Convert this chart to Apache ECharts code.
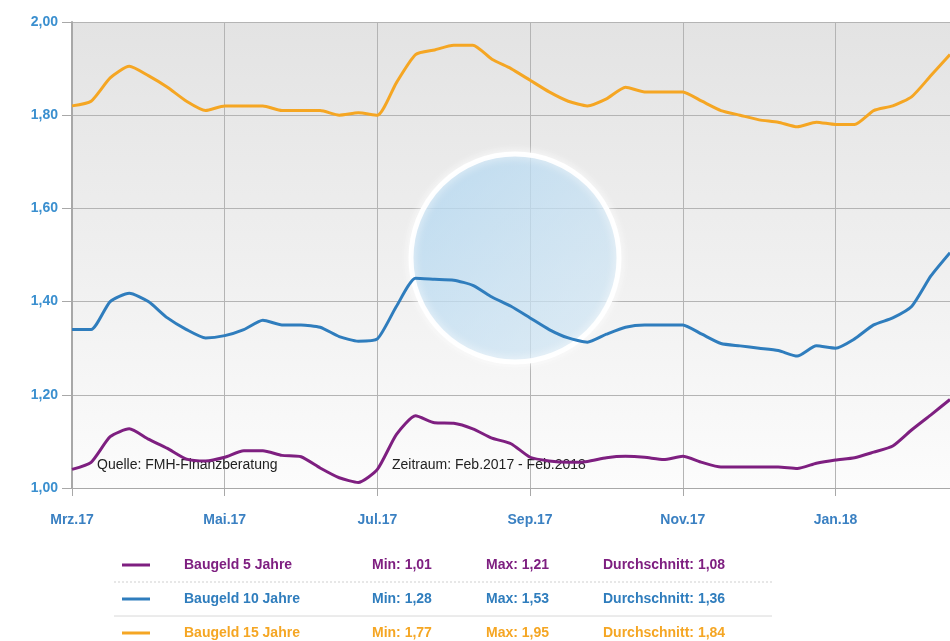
<!DOCTYPE html>
<html>
<head>
<meta charset="utf-8">
<script src="https://cdn.jsdelivr.net/npm/echarts@6/dist/echarts.min.js"></script>
<style>
  html, body { margin: 0; padding: 0; background: #fff; }
  #chart { width: 950px; height: 641px; }
</style>
</head>
<body>
<div id="chart"></div>
<script>
// month labels on the x axis, one every 8 weekly points
var monthLabels = ['Mrz.17', 'Mai.17', 'Jul.17', 'Sep.17', 'Nov.17', 'Jan.18'];

// Baugeld 5 Jahre
var zins5 = [1.04, 1.055, 1.11, 1.127, 1.105, 1.085, 1.062, 1.058, 1.066, 1.08,
    1.08, 1.07, 1.067, 1.043, 1.022, 1.012, 1.04, 1.115, 1.155, 1.14,
    1.139, 1.127, 1.107, 1.095, 1.066, 1.058, 1.055, 1.057, 1.065, 1.068,
    1.066, 1.061, 1.068, 1.055, 1.045, 1.045, 1.045, 1.045, 1.042, 1.053,
    1.06, 1.065, 1.077, 1.09, 1.125, 1.157, 1.19];
// Baugeld 10 Jahre
var zins10 = [1.34, 1.34, 1.40, 1.418, 1.40, 1.365, 1.34, 1.322, 1.327, 1.34,
    1.36, 1.35, 1.35, 1.345, 1.325, 1.315, 1.32, 1.39, 1.45, 1.448,
    1.446, 1.435, 1.41, 1.39, 1.365, 1.34, 1.322, 1.313, 1.33, 1.345,
    1.35, 1.35, 1.35, 1.33, 1.31, 1.305, 1.30, 1.295, 1.283, 1.305,
    1.30, 1.32, 1.35, 1.365, 1.39, 1.455, 1.505];
// Baugeld 15 Jahre
var zins15 = [1.82, 1.83, 1.88, 1.905, 1.885, 1.86, 1.83, 1.81, 1.82, 1.82,
    1.82, 1.81, 1.81, 1.81, 1.80, 1.805, 1.80, 1.87, 1.93, 1.94,
    1.95, 1.95, 1.92, 1.90, 1.875, 1.85, 1.83, 1.82, 1.835, 1.86,
    1.85, 1.85, 1.85, 1.83, 1.81, 1.80, 1.79, 1.785, 1.775, 1.785,
    1.78, 1.78, 1.81, 1.82, 1.84, 1.885, 1.93];

var seriesNames = ['Baugeld 5 Jahre', 'Baugeld 10 Jahre', 'Baugeld 15 Jahre'];
var seriesColors = ['#7e1f80', '#2f7dbd', '#f5a623'];
var statMin = ['1,01', '1,28', '1,77'];
var statMax = ['1,21', '1,53', '1,95'];
var statAvg = ['1,08', '1,36', '1,84'];

var categories = [];
for (var i = 0; i < zins5.length; i++) {
    categories.push(i % 8 === 0 ? monthLabels[i / 8] : '');
}
var showMonth = function (idx, val) { return val !== ''; };

// legend table below the chart
var legendGraphics = [];
var rowY = [565, 599, 633];
for (var r = 0; r < 3; r++) {
    var col = seriesColors[r];
    var font = 'bold 14px Arial, "Liberation Sans", sans-serif';
    legendGraphics.push({
        type: 'line',
        shape: {x1: 122, y1: rowY[r], x2: 150, y2: rowY[r]},
        style: {stroke: col, lineWidth: 3}
    });
    legendGraphics.push({type: 'text', x: 184, y: rowY[r], style: {text: seriesNames[r], fill: col, font: font, textVerticalAlign: 'middle'}});
    legendGraphics.push({type: 'text', x: 372, y: rowY[r], style: {text: 'Min: ' + statMin[r], fill: col, font: font, textVerticalAlign: 'middle'}});
    legendGraphics.push({type: 'text', x: 486, y: rowY[r], style: {text: 'Max: ' + statMax[r], fill: col, font: font, textVerticalAlign: 'middle'}});
    legendGraphics.push({type: 'text', x: 603, y: rowY[r], style: {text: 'Durchschnitt: ' + statAvg[r], fill: col, font: font, textVerticalAlign: 'middle'}});
}
legendGraphics.push({
    type: 'line',
    shape: {x1: 114, y1: 582, x2: 772, y2: 582},
    style: {stroke: '#d0d0d0', lineWidth: 1, lineDash: [2, 2]}
});
legendGraphics.push({
    type: 'line',
    shape: {x1: 114, y1: 616, x2: 772, y2: 616},
    style: {stroke: '#d8d8d8', lineWidth: 1}
});

var option = {
    backgroundColor: '#ffffff',
    animation: false,
    grid: {
        left: 72,
        right: 0,
        top: 22,
        bottom: 153,
        show: true,
        borderWidth: 0,
        backgroundColor: {
            type: 'linear', x: 0, y: 0, x2: 0, y2: 1,
            colorStops: [
                {offset: 0, color: '#e3e3e3'},
                {offset: 0.5, color: '#efefef'},
                {offset: 1, color: '#fcfcfc'}
            ]
        }
    },
    graphic: [
        {
            type: 'circle',
            shape: {cx: 515, cy: 258, r: 104},
            z: 1,
            style: {
                fill: {
                    type: 'linear', x: 0, y: 0, x2: 1, y2: 1,
                    colorStops: [
                        {offset: 0, color: 'rgba(150,200,235,0.6)'},
                        {offset: 1, color: 'rgba(190,220,240,0.45)'}
                    ]
                },
                stroke: 'rgba(255,255,255,0.95)',
                lineWidth: 5,
                shadowBlur: 10,
                shadowColor: 'rgba(255,255,255,0.9)'
            }
        },
        {
            type: 'text', x: 97, y: 465, z: 5,
            style: {text: 'Quelle: FMH-Finanzberatung', fill: '#222', font: '14px Arial, "Liberation Sans", sans-serif', textVerticalAlign: 'middle'}
        },
        {
            type: 'text', x: 392, y: 465, z: 5,
            style: {text: 'Zeitraum: Feb.2017 - Feb.2018', fill: '#222', font: '14px Arial, "Liberation Sans", sans-serif', textVerticalAlign: 'middle'}
        }
    ].concat(legendGraphics),
    xAxis: {
        type: 'category',
        data: categories,
        boundaryGap: false,
        axisLine: {lineStyle: {color: '#a8a8a8', width: 1}},
        axisTick: {show: true, interval: showMonth, length: 8, lineStyle: {color: '#a8a8a8'}},
        axisLabel: {
            interval: showMonth,
            margin: 25,
            color: '#3a80c2',
            fontWeight: 'bold',
            fontSize: 14,
            fontFamily: 'Arial, "Liberation Sans", sans-serif'
        },
        splitLine: {show: true, interval: showMonth, lineStyle: {color: '#b4b4b4', width: 1}}
    },
    yAxis: {
        type: 'value',
        min: 1,
        max: 2,
        interval: 0.2,
        axisLine: {show: true, lineStyle: {color: '#a8a8a8', width: 2}},
        axisTick: {show: true, length: 10, lineStyle: {color: '#a8a8a8'}},
        axisLabel: {
            margin: 14,
            color: '#3a8fcf',
            fontWeight: 'bold',
            fontSize: 14,
            fontFamily: 'Arial, "Liberation Sans", sans-serif',
            formatter: function (v) { return v.toFixed(2).replace('.', ','); }
        },
        splitLine: {lineStyle: {color: '#b4b4b4', width: 1}}
    },
    series: [zins5, zins10, zins15].map(function (d, k) {
        return {
            name: seriesNames[k],
            type: 'line',
            data: d,
            zlevel: 1,
            symbol: 'none',
            smooth: 0.2,
            lineStyle: {color: seriesColors[k], width: 3}
        };
    })
};

var myChart = echarts.init(document.getElementById('chart'));
myChart.setOption(option);
</script>
</body>
</html>
